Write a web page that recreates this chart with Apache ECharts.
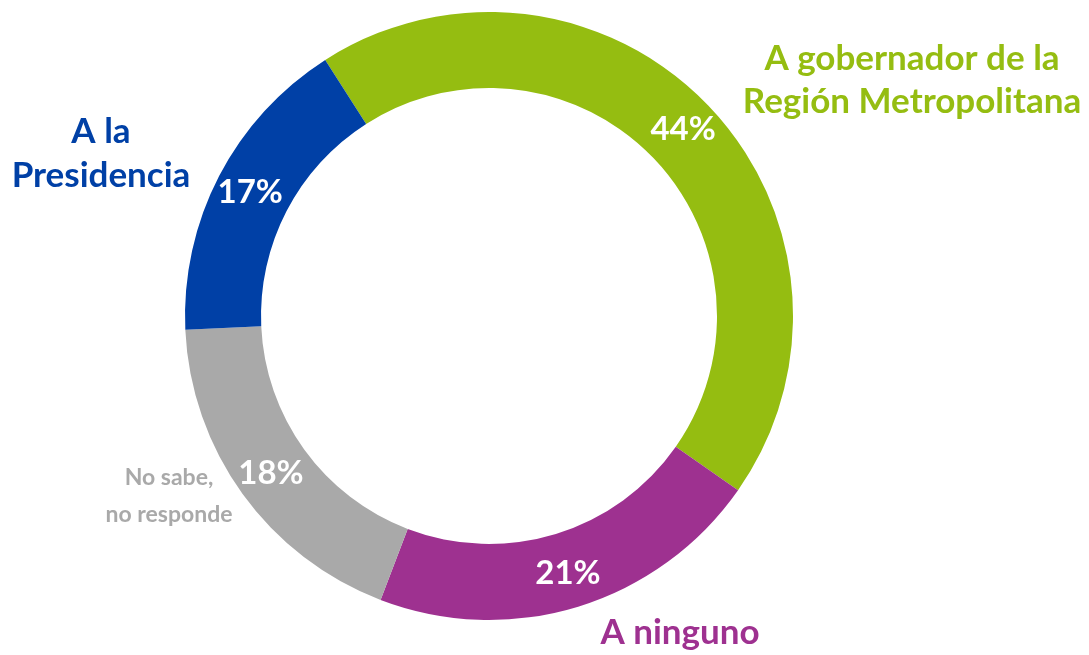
<!DOCTYPE html>
<html>
<head>
<meta charset="utf-8">
<script src="https://cdn.jsdelivr.net/npm/echarts@6/dist/echarts.min.js"></script>
<style>
  html, body { margin: 0; padding: 0; background: #fff; }
  #chart { width: 1089px; height: 655px; }
</style>
</head>
<body>
<div id="chart"></div>
<script>
// 数据
const categories = ['A gobernador de la\nRegión Metropolitana', 'A ninguno', 'No sabe,\nno responde', 'A la\nPresidencia'];
const values     = [43.6, 21.0, 18.4, 16.6];
const colors     = ['#95bd11', '#9e3190', '#a9a9a9', '#0040a6'];

let chart = echarts.init(document.getElementById('chart'));

// 外部标签位置
const labelPos = [
    { x: 912, y: 80,  size: 35, lh: 43 },
    { x: 680, y: 633, size: 35, lh: 43 },
    { x: 169, y: 496, size: 23, lh: 37 },
    { x: 101, y: 154, size: 35, lh: 44 }
];

let option = {
    animation: false,
    series: [{
        type: 'pie',
        center: [489, 316],
        radius: [228, 304],
        startAngle: 122.6,
        clockwise: true,
        silent: true,
        label: {
            show: true,
            position: 'inside',
            formatter: p => Math.round(p.value) + '%',
            color: '#fff',
            fontFamily: 'Lato',
            fontWeight: 'bold',
            fontSize: 33
        },
        labelLine: { show: false },
        data: categories.map((name, i) => ({
            name: name,
            value: values[i],
            itemStyle: { color: colors[i] }
        }))
    }],
    graphic: categories.map((name, i) => ({
        type: 'text',
        x: labelPos[i].x,
        y: labelPos[i].y,
        style: {
            text: name,
            fill: colors[i],
            font: 'bold ' + labelPos[i].size + 'px Lato',
            lineHeight: labelPos[i].lh,
            align: 'center',
            verticalAlign: 'middle'
        }
    }))
};
chart.setOption(option);
</script>
</body>
</html>
